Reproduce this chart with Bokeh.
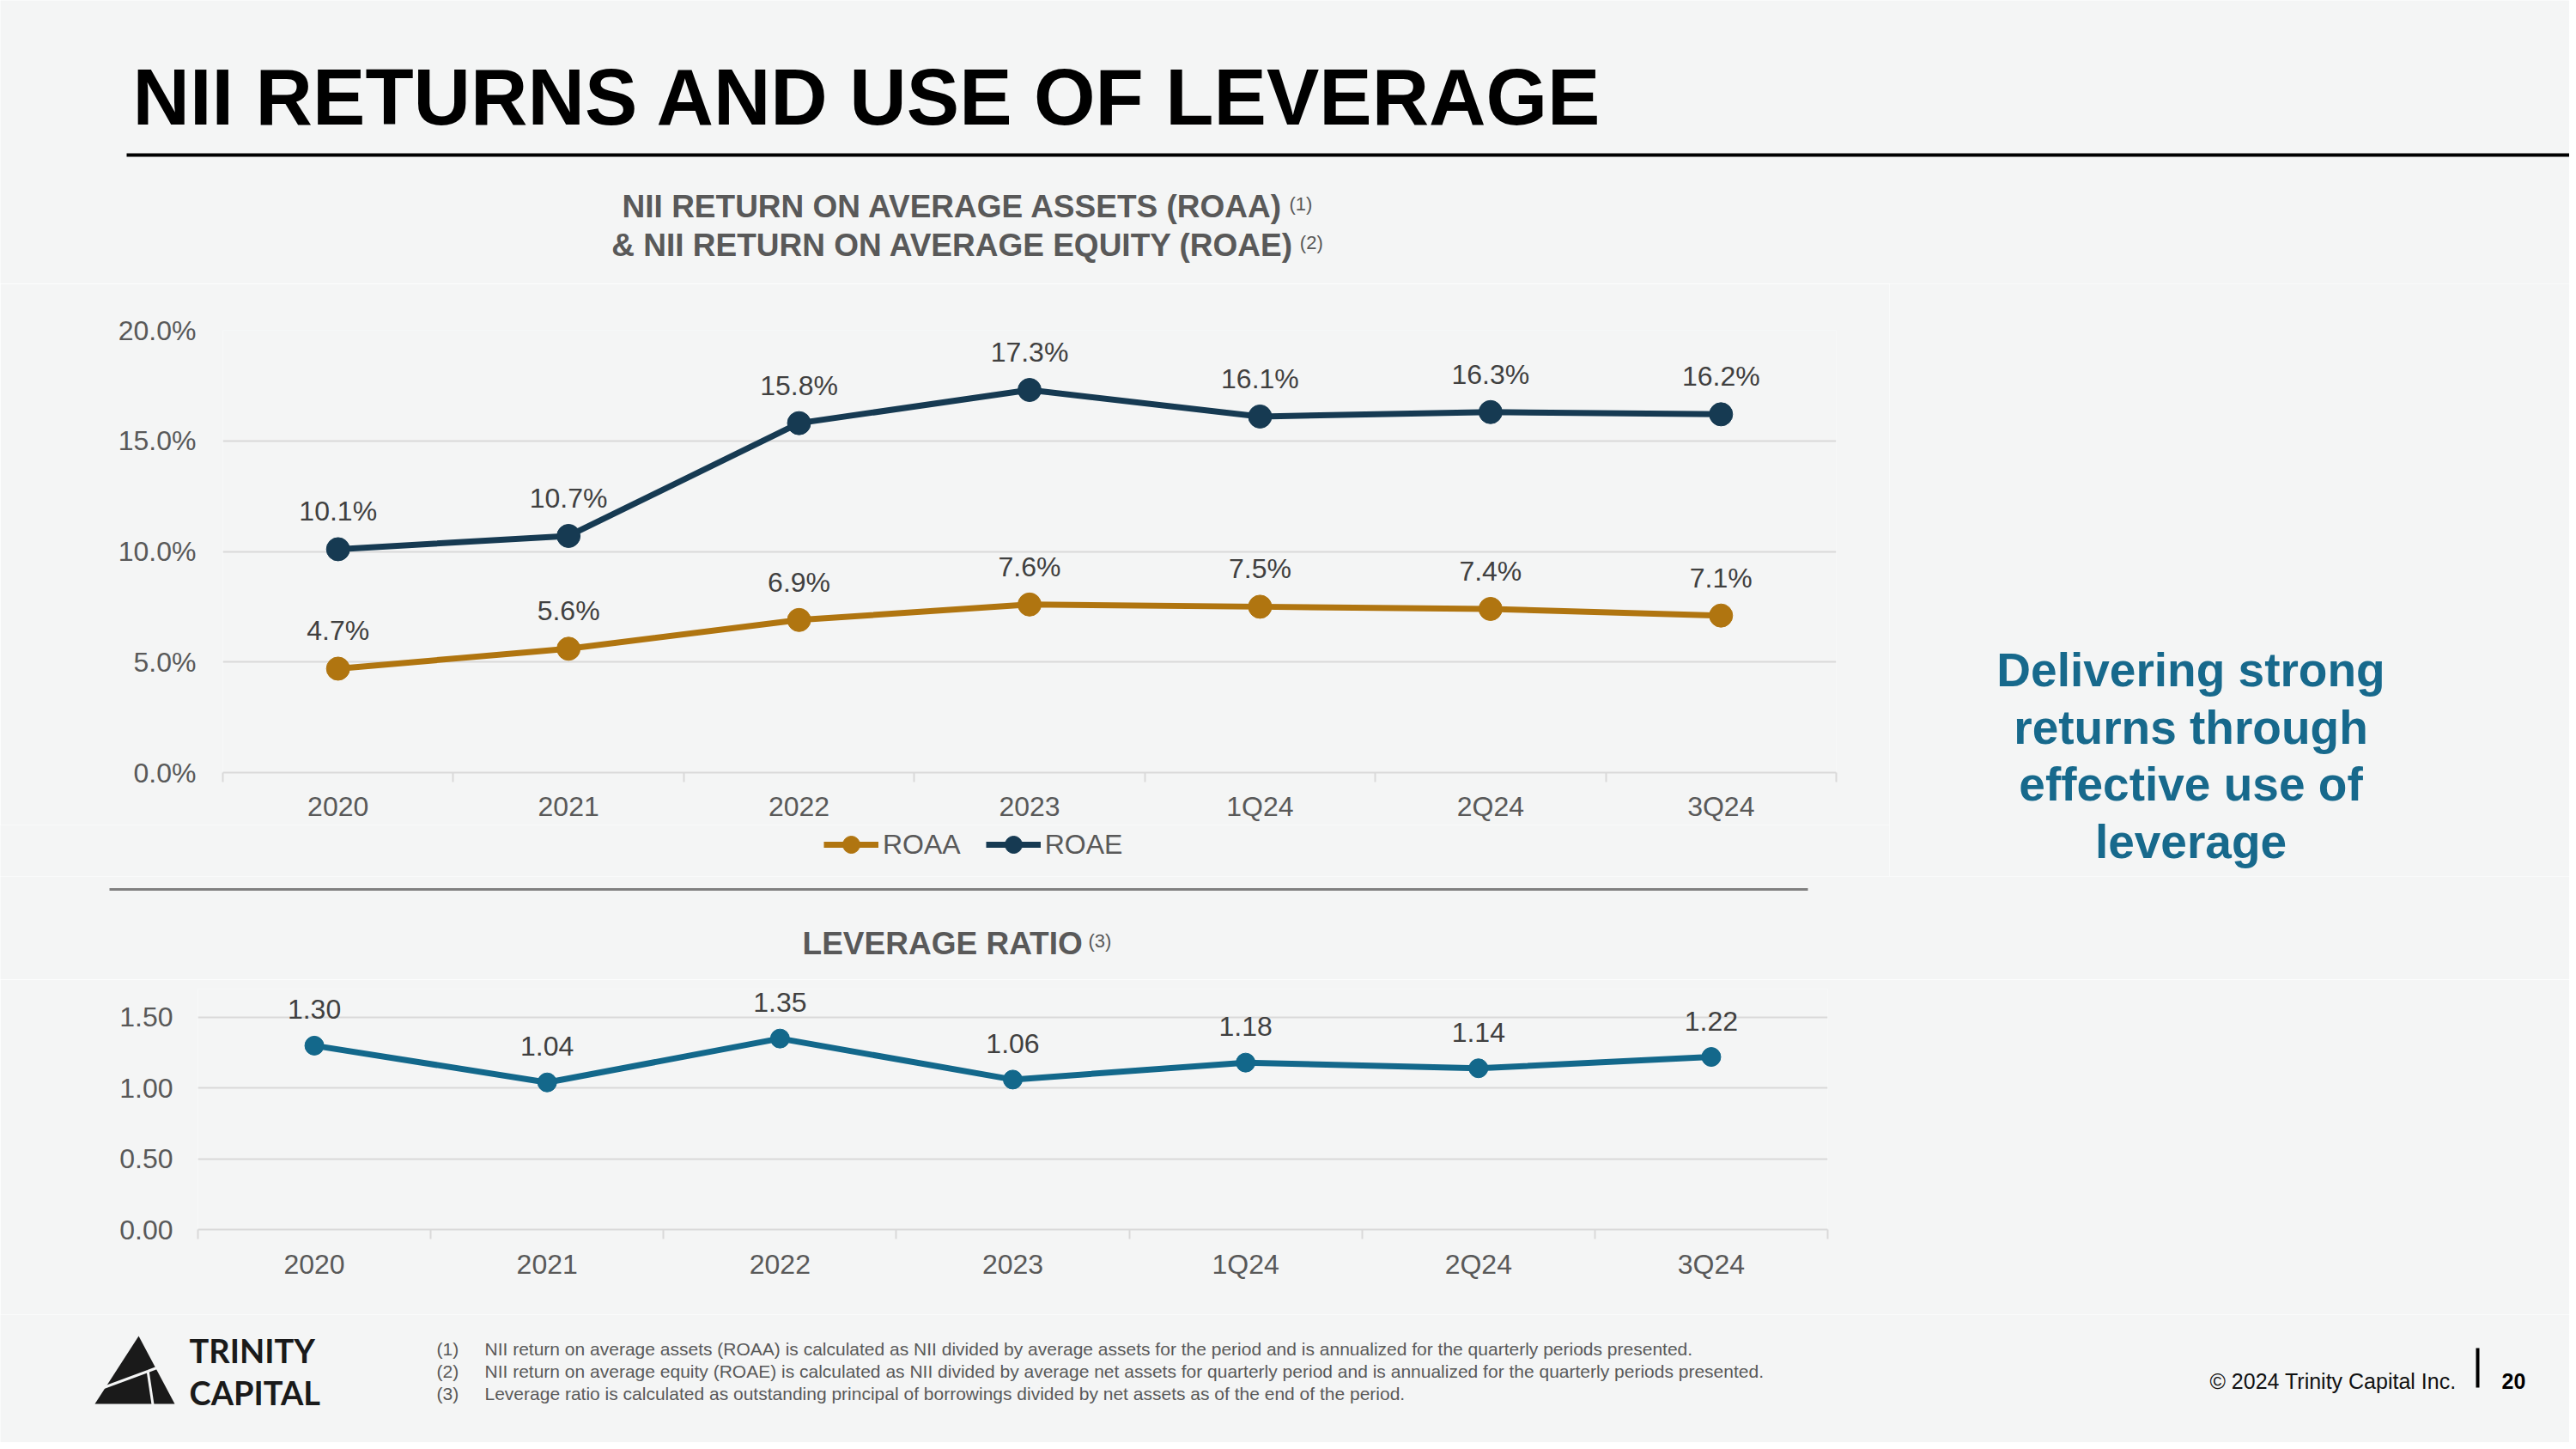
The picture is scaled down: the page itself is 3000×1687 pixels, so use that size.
import numpy as np
from bokeh.plotting import figure
from bokeh.models import (Range1d, FixedTicker, CustomJSTickFormatter, PrintfTickFormatter,
                          Legend, LegendItem, ColumnDataSource)
from bokeh.layouts import column, row
from bokeh.embed import file_html
from bokeh.resources import INLINE
from bokeh.core.properties import value

# ---------------- data ----------------
categories = ["2020", "2021", "2022", "2023", "1Q24", "2Q24", "3Q24"]
roaa = [4.7, 5.6, 6.9, 7.6, 7.5, 7.4, 7.1]
roae = [10.1, 10.7, 15.8, 17.3, 16.1, 16.3, 16.2]
leverage = [1.30, 1.04, 1.35, 1.06, 1.18, 1.14, 1.22]
pct_ticks = [0, 5, 10, 15, 20]
lev_ticks = [0, 0.5, 1.0, 1.5]
series_names = ["ROAA", "ROAE"]

title_text = "NII RETURNS AND USE OF LEVERAGE"
chart1_title = ["NII RETURN ON AVERAGE ASSETS (ROAA)", "& NII RETURN ON AVERAGE EQUITY (ROAE)"]
chart1_notes = ["(1)", "(2)"]
chart2_title = "LEVERAGE RATIO"
chart2_note = "(3)"
callout = ["Delivering strong", "returns through", "effective use of", "leverage"]
note_nums = ["(1)", "(2)", "(3)"]
footnotes = [
    "NII return on average assets (ROAA) is calculated as NII divided by average assets for the period and is annualized for the quarterly periods presented.",
    "NII return on average equity (ROAE) is calculated as NII divided by average net assets for quarterly period and is annualized for the quarterly periods presented.",
    "Leverage ratio is calculated as outstanding principal of borrowings divided by net assets as of the end of the period.",
]
copyright_text = "\u00a9 2024 Trinity Capital Inc."
page_no = "20"

# ---------------- styles ----------------
FONT = value("Liberation Sans")
BG = "#f4f5f5"
GRID = "#d9d9d9"
AXIS_TXT = "#595959"
LBL_TXT = "#404040"
C_ROAA = "#b07510"
C_ROAE = "#163a52"
C_LEV = "#13688b"
C_CALL = "#17698c"
W = 2992

BOLD_W = {' ': 278, '&': 722, '(': 333, ')': 333, 'A': 722, 'C': 722, 'D': 722, 'E': 667,
          'F': 611, 'G': 778, 'I': 278, 'L': 611, 'N': 722, 'O': 778, 'Q': 778, 'R': 722,
          'S': 667, 'T': 611, 'U': 722, 'V': 667, 'Y': 667}
REG_W = {'(': 333, ')': 333, '1': 556, '2': 556, '3': 556}


def tw(s, size, table):
    return sum(table.get(c, 600) for c in s) * size / 1000.0


def canvas(w, h):
    p = figure(width=w, height=h, x_range=Range1d(0, w), y_range=Range1d(h, 0),
               x_axis_type=None, y_axis_type=None, min_border=0,
               output_backend="svg", toolbar_location=None)
    p.frame_align = False
    p.background_fill_color = BG
    p.border_fill_color = BG
    p.outline_line_color = None
    p.xgrid.visible = False
    p.ygrid.visible = False
    return p


def spaced_title(p, text, note, cx, cy, size=37, note_size=22):
    w1 = tw(text, size, BOLD_W)
    w2 = tw(note, note_size, REG_W)
    x0 = cx - (w1 + 4 + w2) / 2
    p.text(x=[x0], y=[cy], text=[text], text_font=FONT, text_font_size=f"{size}px",
           text_font_style="bold", text_color=AXIS_TXT, text_align="left",
           text_baseline="middle")
    p.text(x=[x0 + w1 + 4], y=[cy - 3], text=[note], text_font=FONT,
           text_font_size=f"{note_size}px", text_color=AXIS_TXT, text_align="left",
           text_baseline="middle")


def style_chart(p, ticks, fmt, ystand, xstand):
    p.frame_align = False
    p.background_fill_color = BG
    p.border_fill_color = BG
    p.outline_line_color = None
    p.xgrid.visible = False
    p.ygrid.grid_line_color = GRID
    p.ygrid.grid_line_width = 2
    n = len(categories)
    p.xaxis.ticker = FixedTicker(ticks=list(range(n)), minor_ticks=[i - 0.5 for i in range(n + 1)])
    p.xaxis.formatter = CustomJSTickFormatter(args=dict(labels=categories),
                                              code="const i = Math.round(tick); return (i >= 0 && i < labels.length) ? labels[i] : '';")
    p.xaxis.axis_line_color = GRID
    p.xaxis.axis_line_width = 2
    p.xaxis.major_tick_line_color = None
    p.xaxis.major_tick_out = 0
    p.xaxis.major_tick_in = 0
    p.xaxis.minor_tick_line_color = GRID
    p.xaxis.minor_tick_line_width = 2
    p.xaxis.minor_tick_out = 11
    p.xaxis.minor_tick_in = 0
    p.xaxis.major_label_standoff = xstand
    p.yaxis.ticker = FixedTicker(ticks=ticks)
    p.yaxis.formatter = PrintfTickFormatter(format=fmt)
    p.yaxis.axis_line_color = None
    p.yaxis.major_tick_line_color = None
    p.yaxis.minor_tick_line_color = None
    p.yaxis.major_tick_out = 0
    p.yaxis.major_tick_in = 0
    p.yaxis.major_label_standoff = ystand
    for ax in (p.xaxis, p.yaxis):
        ax.major_label_text_font = "Liberation Sans"
        ax.major_label_text_font_size = "32px"
        ax.major_label_text_color = AXIS_TXT


idx = list(range(len(categories)))

# ---------------- header (page y 0..330) ----------------
H1 = 330
hdr = canvas(W, H1)
hdr.text(x=[154], y=[112], text=[title_text], text_font=FONT, text_font_size="92px",
         text_font_style="bold", text_color="#000000", text_align="left", text_baseline="middle")
hdr.segment(x0=[147], y0=[180], x1=[W], y1=[180], line_width=4, line_color="#000000")
spaced_title(hdr, chart1_title[0], chart1_notes[0], 1126, 240)
spaced_title(hdr, chart1_title[1], chart1_notes[1], 1126, 284.5)

# ---------------- top chart (page y 330..960) ----------------
W1 = 2200
H2a = 630
p1 = figure(width=W1, height=H2a, x_range=Range1d(-0.5, len(categories) - 0.5), y_range=Range1d(0, 20),
            min_border_left=259, min_border_right=W1 - 2138, min_border_top=54, min_border_bottom=61,
            output_backend="svg", toolbar_location=None)
style_chart(p1, pct_ticks, "%.1f%%", 31, 10)

src_a = ColumnDataSource(dict(x=idx, y=roaa, label=[f"{v:.1f}%" for v in roaa]))
src_e = ColumnDataSource(dict(x=idx, y=roae, label=[f"{v:.1f}%" for v in roae]))
for s, c in ((src_a, C_ROAA), (src_e, C_ROAE)):
    p1.line("x", "y", source=s, line_color=c, line_width=7)
    p1.scatter("x", "y", source=s, size=27, fill_color=c, line_color=c)
    p1.text("x", "y", text="label", source=s, y_offset=-44, text_font=FONT, text_font_size="32px",
            text_color=LBL_TXT, text_align="center", text_baseline="middle")

# ---------------- legend strip (page y 960..1020) ----------------
H2b = 60
lg = canvas(W1, H2b)
items = []
for name, c in zip(series_names, (C_ROAA, C_ROAE)):
    # legend-only renderers: one undefined (NaN) point so nothing is drawn in the plot area
    ghost = ColumnDataSource(dict(x=np.array([np.nan]), y=np.array([np.nan])))
    r1 = lg.line("x", "y", source=ghost, line_color=c, line_width=7)
    r2 = lg.scatter("x", "y", source=ghost, size=20, fill_color=c, line_color=c)
    items.append(LegendItem(label=name, renderers=[r1, r2]))
legend = Legend(items=items, location=(959, 12), orientation="horizontal",
                glyph_width=64, glyph_height=50, label_standoff=5, spacing=29,
                padding=0, margin=0, background_fill_alpha=0, border_line_color=None,
                label_text_font="Liberation Sans", label_text_font_size="32px",
                label_text_color=AXIS_TXT)
lg.add_layout(legend)

# ---------------- callout ----------------
rt = canvas(W - W1, H2a + H2b)
rt.text(x=[351] * len(callout), y=[779 - 330, 846 - 330, 912 - 330, 979 - 330], text=callout,
        text_font=FONT, text_font_size="55px", text_font_style="bold", text_color=C_CALL,
        text_align="center", text_baseline="middle")

# ---------------- leverage header (page y 1020..1140) ----------------
H3 = 120
lh = canvas(W, H3)
lh.segment(x0=[127], y0=[15], x1=[2105], y1=[15], line_width=3, line_color="#808080")
spaced_title(lh, chart2_title, chart2_note, 1114, 78)

# ---------------- leverage chart (page y 1140..1530) ----------------
H4 = 390
p2 = figure(width=W, height=H4, x_range=Range1d(-0.5, len(categories) - 0.5), y_range=Range1d(0, 1.7),
            min_border_left=230, min_border_right=W - 2128, min_border_top=11, min_border_bottom=99,
            output_backend="svg", toolbar_location=None)
style_chart(p2, lev_ticks, "%.2f", 29, 11)
src_l = ColumnDataSource(dict(x=idx, y=leverage, label=[f"{v:.2f}" for v in leverage]))
p2.line("x", "y", source=src_l, line_color=C_LEV, line_width=7)
p2.scatter("x", "y", source=src_l, size=22, fill_color=C_LEV, line_color=C_LEV)
p2.text("x", "y", text="label", source=src_l, y_offset=-42, text_font=FONT, text_font_size="32px",
        text_color=LBL_TXT, text_align="center", text_baseline="middle")

# ---------------- footer (page y 1530..1679) ----------------
H5 = 1679 - H1 - H2a - H2b - H3 - H4
ft = canvas(W, H5)
ft.patch(x=[161, 110, 203], y=[25, 104, 104], fill_color="#1a1a1a", line_color=None)
ft.segment(x0=[171.7, 171.7, 171.7], y0=[66, 66, 66], x1=[104, 178, 190], y1=[91, 108, 59],
           line_color=BG, line_width=3)
ft.text(x=[220, 220], y=[41.5, 90.5], text=["TRINITY", "CAPITAL"], text_font=value("Lato"),
        text_font_size="38px", text_font_style="bold", text_color="#1a1a1a",
        text_align="left", text_baseline="middle")
ft.text(x=[508] * 3, y=[40, 66, 92], text=note_nums, text_font=FONT, text_font_size="21px",
        text_color=AXIS_TXT, text_align="left", text_baseline="middle")
ft.text(x=[564] * 3, y=[40, 66, 92], text=footnotes, text_font=FONT, text_font_size="21px",
        text_color=AXIS_TXT, text_align="left", text_baseline="middle")
ft.text(x=[2573], y=[77], text=[copyright_text], text_font=FONT, text_font_size="25px",
        text_color="#111111", text_align="left", text_baseline="middle")
ft.segment(x0=[2885], y0=[39], x1=[2885], y1=[85], line_width=4, line_color="#000000")
ft.text(x=[2913], y=[77], text=[page_no], text_font=FONT, text_font_size="25px",
        text_font_style="bold", text_color="#000000", text_align="left", text_baseline="middle")

layout = column(hdr, row(column(p1, lg), rt), lh, p2, ft)
open("out.html", "w").write(file_html(layout, INLINE))
